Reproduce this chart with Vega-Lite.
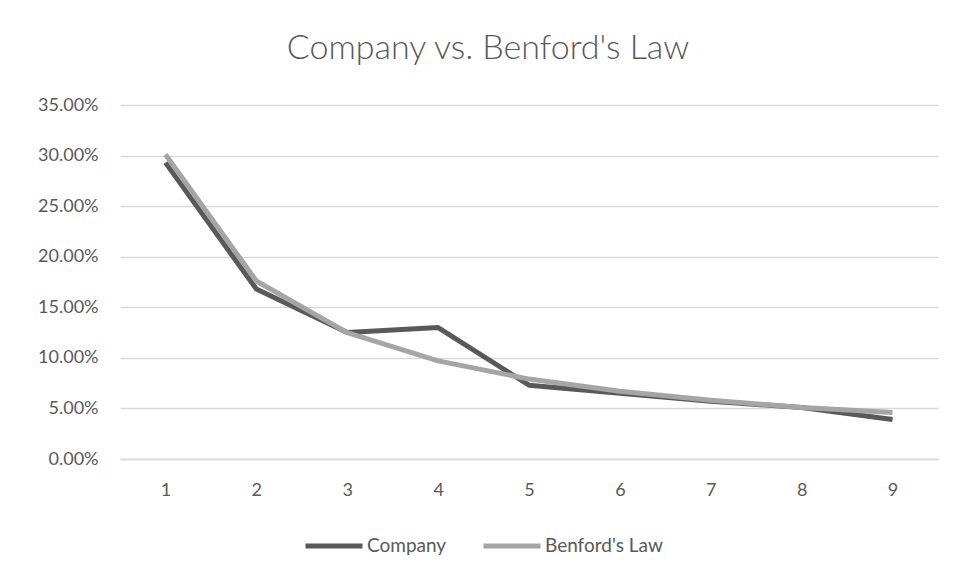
{
  "$schema": "https://vega.github.io/schema/vega-lite/v6.json",
  "width": 818,
  "height": 354,
  "autosize": {"type": "none"},
  "padding": {"left": 120, "top": 105, "right": 20, "bottom": 120},
  "background": "white",
  "title": {
    "text": "Company vs. Benford's Law",
    "font": "Lato",
    "fontSize": 34,
    "fontWeight": 300,
    "color": "#595959",
    "anchor": "middle",
    "dx": -41,
    "baseline": "alphabetic",
    "offset": 3
  },
  "data": {
    "values": [
      {"digit": "1", "series": "Company", "share": 0.293},
      {"digit": "2", "series": "Company", "share": 0.168},
      {"digit": "3", "series": "Company", "share": 0.125},
      {"digit": "4", "series": "Company", "share": 0.130},
      {"digit": "5", "series": "Company", "share": 0.073},
      {"digit": "6", "series": "Company", "share": 0.065},
      {"digit": "7", "series": "Company", "share": 0.057},
      {"digit": "8", "series": "Company", "share": 0.051},
      {"digit": "9", "series": "Company", "share": 0.039},
      {"digit": "1", "series": "Benford's Law", "share": 0.301},
      {"digit": "2", "series": "Benford's Law", "share": 0.176},
      {"digit": "3", "series": "Benford's Law", "share": 0.125},
      {"digit": "4", "series": "Benford's Law", "share": 0.097},
      {"digit": "5", "series": "Benford's Law", "share": 0.079},
      {"digit": "6", "series": "Benford's Law", "share": 0.067},
      {"digit": "7", "series": "Benford's Law", "share": 0.058},
      {"digit": "8", "series": "Benford's Law", "share": 0.051},
      {"digit": "9", "series": "Benford's Law", "share": 0.046}
    ]
  },
  "mark": {"type": "line", "strokeWidth": 5, "strokeCap": "butt", "strokeJoin": "round"},
  "encoding": {
    "x": {
      "field": "digit",
      "type": "ordinal",
      "scale": {"type": "point", "padding": 0.5},
      "axis": {
        "title": null,
        "labelAngle": 0,
        "labelFont": "Lato",
        "labelFontSize": 18,
        "labelColor": "#595959",
        "labelPadding": 22,
        "ticks": false,
        "grid": false,
        "domainColor": "#d9d9d9",
        "domainWidth": 1.5
      }
    },
    "y": {
      "field": "share",
      "type": "quantitative",
      "scale": {"domain": [0, 0.35], "nice": false},
      "axis": {
        "title": null,
        "format": ".2%",
        "values": [0, 0.05, 0.1, 0.15, 0.2, 0.25, 0.3, 0.35],
        "labelFont": "Lato",
        "labelFontSize": 18,
        "labelColor": "#595959",
        "labelPadding": 22,
        "ticks": false,
        "domain": false,
        "gridColor": "#d9d9d9",
        "gridWidth": 1.5
      }
    },
    "color": {
      "field": "series",
      "type": "nominal",
      "sort": ["Company", "Benford's Law"],
      "scale": {"domain": ["Company", "Benford's Law"], "range": ["#595959", "#a5a5a5"]},
      "legend": {
        "title": null,
        "orient": "none",
        "direction": "horizontal",
        "legendX": 183,
        "legendY": 410,
        "symbolType": "stroke",
        "symbolSize": 3249,
        "symbolStrokeWidth": 5,
        "labelFont": "Lato",
        "labelFontSize": 19,
        "labelColor": "#595959",
        "labelOffset": 2,
        "columnPadding": 26
      }
    }
  },
  "config": {"view": {"stroke": null}}
}
